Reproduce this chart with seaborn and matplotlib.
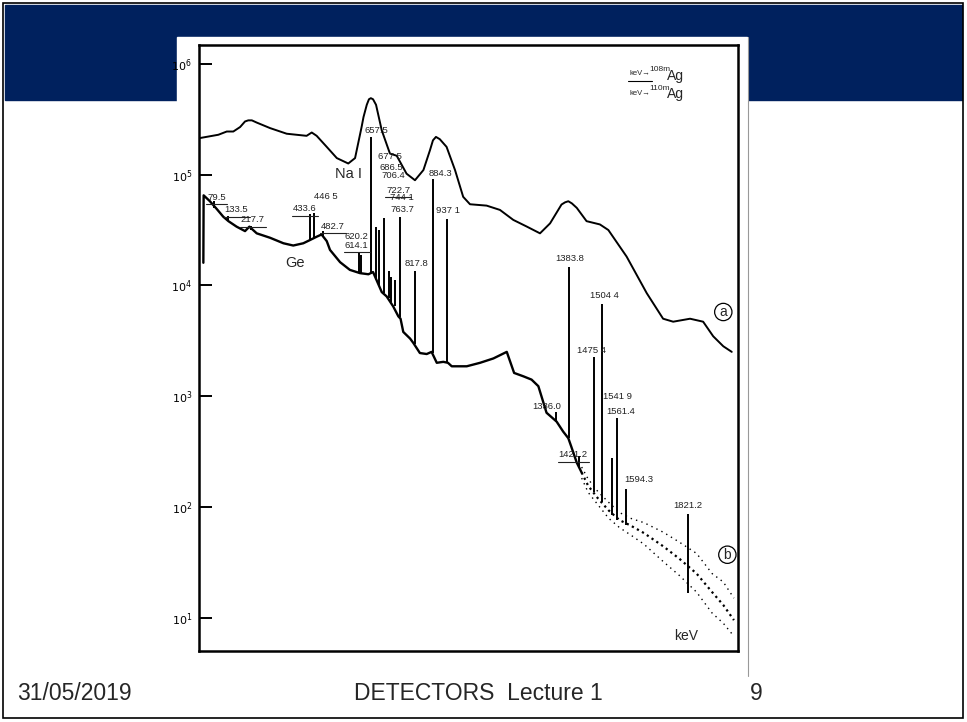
import matplotlib
matplotlib.use("Agg")
import matplotlib.pyplot as plt
import seaborn as sns
from matplotlib.patches import Rectangle
from matplotlib.lines import Line2D
from matplotlib.ticker import NullLocator

# ---------------- data ----------------
# (a) NaI spectrum : energy (keV) and counts
nai_energy = [30, 97, 128, 152, 177, 195, 207, 220, 238, 287, 348, 421, 440, 458,
              495, 532, 574, 599, 623, 630, 642, 650, 657, 665, 676, 697, 727,
              752, 788, 819, 850, 874, 885, 896, 910, 935, 966, 996, 1021, 1082,
              1131, 1180, 1229, 1278, 1315, 1357, 1370, 1382, 1395, 1413, 1449,
              1498, 1529, 1596, 1670, 1730, 1767, 1829, 1877, 1914, 1951, 1982]
nai_counts = [2.14e5, 2.29e5, 2.45e5, 2.45e5, 2.69e5, 3.02e5, 3.09e5, 3.09e5,
              2.95e5, 2.63e5, 2.34e5, 2.24e5, 2.40e5, 2.24e5, 1.78e5, 1.41e5,
              1.26e5, 1.41e5, 2.69e5, 3.31e5, 4.27e5, 4.79e5, 4.90e5, 4.79e5,
              4.27e5, 2.51e5, 1.55e5, 1.48e5, 1.02e5, 8.9e4, 1.10e5, 1.66e5,
              2.04e5, 2.19e5, 2.09e5, 1.78e5, 1.10e5, 6.3e4, 5.4e4, 5.25e4,
              4.8e4, 3.9e4, 3.4e4, 2.95e4, 3.63e4, 5.37e4, 5.62e4, 5.75e4,
              5.5e4, 5.01e4, 3.8e4, 3.55e4, 3.16e4, 1.82e4, 8.5e3, 5.0e3, 4.7e3,
              5.0e3, 4.7e3, 3.47e3, 2.82e3, 2.51e3]

# (b) Ge spectrum : continuum
ge_energy = [42, 43, 66, 91, 115, 134, 164, 195, 211, 238, 287, 336, 372, 409,
             434, 458, 476, 495, 507, 544, 580, 617, 648, 665, 697, 715, 739,
             758, 766, 776, 801, 813, 837, 862, 880, 899, 923, 940, 954, 1009,
             1058, 1107, 1156, 1183, 1217, 1247, 1272, 1302, 1339, 1363, 1382,
             1392, 1413, 1431]
ge_counts = [1.6e4, 6.5e4, 5.75e4, 4.9e4, 4.17e4, 3.8e4, 3.39e4, 3.09e4, 3.39e4,
             2.95e4, 2.69e4, 2.4e4, 2.29e4, 2.4e4, 2.57e4, 2.75e4, 2.88e4,
             2.51e4, 2.09e4, 1.62e4, 1.38e4, 1.29e4, 1.26e4, 1.32e4, 8.7e3,
             7.95e3, 6.46e3, 5.25e3, 5.0e3, 3.8e3, 3.31e3, 3.02e3, 2.45e3,
             2.4e3, 2.51e3, 2.0e3, 2.04e3, 2.0e3, 1.86e3, 1.86e3, 2.0e3, 2.19e3,
             2.51e3, 1.62e3, 1.51e3, 1.41e3, 1.23e3, 708, 589, 479, 417, 355,
             251, 204]

# (b) Ge spectrum : noisy high-energy tail (band centre and edges)
tail_energy = [1431, 1455, 1490, 1530, 1570, 1610, 1660, 1731, 1790, 1853, 1910,
               1951, 1990]
tail_mid = [204, 155, 120, 93, 76, 68, 58, 44, 34, 25, 17, 13, 9.5]
tail_hi = [229, 178, 138, 110, 89, 79, 72, 59, 48, 38, 25, 21, 15]
tail_lo = [182, 135, 105, 79, 65, 56, 46, 32, 24, 17, 11, 8.9, 6.8]

# (b) Ge spectrum : peaks (energy, counts at foot, counts at top)
peak_energy = [79.5, 133.5, 217.7, 433.6, 446.5, 482.7, 614.1, 620.2, 657.5,
               677.5, 686.5, 706.4, 722.7, 731, 744.1, 763.7, 817.8, 884.3,
               937.1, 1336.0, 1383.8, 1421.2, 1475.4, 1504.4, 1541.9, 1561.4,
               1594.3, 1821.2]
peak_base = [5.0e4, 3.8e4, 3.16e4, 2.57e4, 2.69e4, 2.82e4, 1.29e4, 1.29e4,
             1.26e4, 1.12e4, 1.0e4, 8.5e3, 7.76e3, 7.08e3, 6.46e3, 5.13e3,
             2.95e3, 2.45e3, 2.0e3, 589, 417, 229, 135, 110, 85, 76, 69, 16.6]
peak_top = [5.75e4, 4.27e4, 3.47e4, 4.37e4, 4.47e4, 3.09e4, 1.95e4, 1.9e4,
            2.19e5, 3.39e4, 3.16e4, 4.07e4, 1.35e4, 1.2e4, 1.12e4, 4.17e4,
            1.35e4, 9.1e4, 3.98e4, 724, 1.48e4, 288, 2240, 6760, 275, 631,
            145, 87]

# peak labels: text, position (keV, counts), underlined (108mAg line)
label_text = ["79.5", "133.5", "217.7", "433.6", "446 5", "482.7", "620.2",
              "614.1", "657.5", "677 5", "686.5", "706.4", "722.7", "744 1",
              "763.7", "817.8", "884.3", "937 1", "1336.0", "1383.8", "1421.2",
              "1475 4", "1504 4", "1541 9", "1561.4", "1594.3", "1821.2"]
label_e = [91, 164, 223, 415, 492, 517, 605, 605, 678, 727, 733, 739, 758, 770,
           773, 825, 914, 941, 1302, 1388, 1400, 1467, 1513, 1562, 1574, 1639,
           1822]
label_c = [6.2e4, 4.8e4, 3.9e4, 4.9e4, 6.3e4, 3.4e4, 2.75e4, 2.3e4, 2.5e5,
           1.45e5, 1.17e5, 9.9e4, 7.2e4, 6.2e4, 4.8e4, 1.58e4, 1.02e5, 4.7e4,
           810, 1.74e4, 295, 2570, 8130, 1000, 724, 178, 102]
label_under = [True, True, True, True, False, True, False, True, False, False,
               False, False, True, False, False, False, False, False, False,
               False, True, False, False, False, False, False, False]

y_tick_values = [1e1, 1e2, 1e3, 1e4, 1e5, 1e6]
y_tick_labels = ["$10^{1}$", "$10^{2}$", "$10^{3}$", "$10^{4}$", "$10^{5}$",
                 "$10^{6}$"]

footer_date = "31/05/2019"
footer_title = "DETECTORS  Lecture 1"
footer_page = "9"

# ---------------- figure ----------------
sns.set_theme(style="white")
plt.rcParams['font.family'] = ['Liberation Sans', 'DejaVu Sans']
plt.rcParams['mathtext.fontset'] = 'dejavusans'

W, H = 967, 722
fig = plt.figure(figsize=(W / 100, H / 100), dpi=100)
fig.patch.set_facecolor("white")


def fx(px):
    return px / W


def fy(py):
    return 1 - py / H


# slide decoration
fig.add_artist(Rectangle((fx(5), fy(100)), fx(962) - fx(5), fy(5) - fy(100),
                         transform=fig.transFigure, color="#00215E", zorder=0))
fig.add_artist(Rectangle((fx(177), fy(662)), fx(747) - fx(177), fy(37) - fy(662),
                         transform=fig.transFigure, color="white", zorder=0.5))
fig.add_artist(Line2D([fx(748), fx(748)], [fy(37), fy(676)],
                      transform=fig.transFigure, color="#999999", lw=0.8,
                      zorder=0.6))
fig.add_artist(Rectangle((fx(3), fy(718)), fx(963) - fx(3), fy(3) - fy(718),
                         transform=fig.transFigure, fill=False, ec="black",
                         lw=1.2, zorder=0.7))

ax = fig.add_axes([fx(199), fy(651), fx(738) - fx(199), fy(45) - fy(651)])
ax.set_zorder(2)
ax.patch.set_alpha(0)
ax.set_yscale("log")

# spectra
sns.lineplot(x=nai_energy, y=nai_counts, ax=ax, color="black", lw=1.4,
             estimator=None, sort=False)
sns.lineplot(x=ge_energy, y=ge_counts, ax=ax, color="black", lw=1.7,
             estimator=None, sort=False)
sns.lineplot(x=tail_energy, y=tail_mid, ax=ax, color="black", lw=1.6,
             estimator=None, sort=False, linestyle=(0, (1, 1.6)))
sns.lineplot(x=tail_energy, y=tail_hi, ax=ax, color="black", lw=1.0,
             estimator=None, sort=False, linestyle=(0, (1, 3)))
sns.lineplot(x=tail_energy, y=tail_lo, ax=ax, color="black", lw=1.0,
             estimator=None, sort=False, linestyle=(0, (1, 3)))
ax.vlines(peak_energy, peak_base, peak_top, color="black", lw=1.4)

# labels
for t, e, c, u in zip(label_text, label_e, label_c, label_under):
    ax.text(e, c, t, fontsize=6.8, ha="center", va="center", color="#222222")
    if u:
        half = 9.5 * len(t)
        ax.plot([e - half, e + half], [c * 0.87, c * 0.87], color="#222222",
                lw=0.8)

ax.text(574, 1.02e5, "Na I", fontsize=10.5, ha="center", va="center")
ax.text(378, 1.58e4, "Ge", fontsize=10.5, ha="center", va="center")
ax.text(1816, 6.8, "keV", fontsize=10, ha="center", va="center")
ax.text(1951, 5750, "a", fontsize=10, ha="center", va="center",
        bbox=dict(boxstyle="circle,pad=0.12", fc="none", ec="black", lw=0.9))
ax.text(1966, 37, "b", fontsize=10, ha="center", va="center",
        bbox=dict(boxstyle="circle,pad=0.12", fc="none", ec="black", lw=0.9))

# isotope key (top right)
ax.text(1645, 8.25e5, "keV\u2192", fontsize=5.5, ha="center", va="center")
ax.plot([1602, 1690], [7.0e5, 7.0e5], color="black", lw=0.8)
ax.text(1717, 8.9e5, "108m", fontsize=6, ha="center", va="center")
ax.text(1777, 7.8e5, "Ag", fontsize=10, ha="center", va="center")
ax.text(1645, 5.45e5, "keV\u2192", fontsize=5.5, ha="center", va="center")
ax.text(1717, 5.95e5, "110m", fontsize=6, ha="center", va="center")
ax.text(1777, 5.35e5, "Ag", fontsize=10, ha="center", va="center")

# axes styling
ax.set_xlim(26, 2005)
ax.set_ylim(5.0, 1.48e6)
ax.set_xticks([])
ax.set_yticks(y_tick_values)
ax.set_yticklabels(y_tick_labels)
ax.yaxis.set_minor_locator(NullLocator())
ax.tick_params(axis="y", which="major", left=True, direction="in", length=9,
               width=1.4, labelsize=8, pad=5, colors="black")
for s in ax.spines.values():
    s.set_color("black")
    s.set_linewidth(1.8)
ax.set_xlabel("")
ax.set_ylabel("")

# footer
fig.text(fx(17), fy(694), footer_date, fontsize=16.5, ha="left", va="center")
fig.text(fx(478), fy(694), footer_title, fontsize=16.5, ha="center",
         va="center")
fig.text(fx(756), fy(694), footer_page, fontsize=16.5, ha="center", va="center")

fig.savefig("out.png", dpi=100)
